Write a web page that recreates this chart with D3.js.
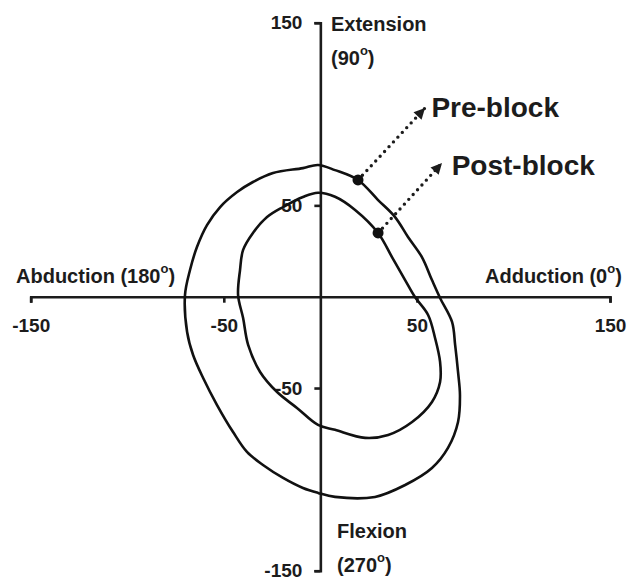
<!DOCTYPE html>
<meta charset="utf-8">
<style>
    body { margin: 0; background: #fff; }
    text { font-family: "Liberation Sans", Arial, sans-serif; font-weight: bold; fill: #1c1c1c; }
</style>
<script src="https://d3js.org/d3.v7.min.js"></script>
<div id="chart"></div>
<script>
// tick values on both axes
var tickVals = [-150, -50, 50, 150];

// outer loop (pre-block), traced clockwise from the top
var preX = [-1.2, 7.6, 19.5, 29.9, 38.7, 45.4, 52.6, 57.8, 62.0, 68.2, 69.8, 71.3, 72.3, 71.3, 66.1, 57.8, 43.9, 28.3, 7.6, -1.2,
            -9.0, -19.3, -29.7, -38.0, -45.2, -53.5, -60.7, -65.9, -69.0, -70.1, -67.5, -63.9, -58.7, -51.9, -43.1, -34.9, -24.5, -9.0];
var preY = [72.1, 69.3, 63.9, 52.9, 43.6, 32.7, 21.7, 9.1, -0.7, -13.8, -26.4, -41.2, -53.8, -68.6, -82.8, -93.8, -103.1, -109.6, -109.6, -107.4,
            -104.7, -99.2, -92.1, -85.0, -74.1, -59.3, -44.5, -31.9, -19.3, 0.9, 14.6, 27.2, 39.2, 49.1, 57.3, 62.8, 67.7, 70.4];

// inner loop (post-block)
var postX = [-1.2, 7.6, 18.0, 29.9, 37.1, 43.9, 49.0, 55.8, 59.4, 62.0, 62.0, 57.8, 47.5, 35.1, 23.2, 7.6, -1.2,
             -12.1, -22.4, -31.2, -37.4, -40.0, -42.6, -41.6, -40.0, -34.9, -27.6, -19.3, -9.0];
var postY = [56.9, 54.7, 47.5, 34.9, 21.7, 9.1, -0.2, -10.0, -22.6, -35.7, -46.7, -57.6, -68.6, -75.7, -77.3, -72.9, -70.2,
             -60.9, -52.2, -41.2, -26.4, -11.7, 0.9, 14.6, 25.6, 34.9, 43.6, 49.1, 54.6];

// marked points and where their arrows point
var markNames = ["Pre-block", "Post-block"];
var markPt = [[19.5, 63.9], [29.9, 34.9]];
var arrowTip = [[54.2, 103.3], [63.0, 73.2]];
var labelPt = [[57.5, 98.6], [68.0, 66.6]];

var width = 627, height = 577;

var svg = d3.select("#chart").append("svg")
    .attr("width", width)
    .attr("height", height);

var x = d3.scaleLinear().domain([-150, 150]).range([30.7, 610]);
var y = d3.scaleLinear().domain([-150, 150]).range([570.7, 22.7]);

svg.append("defs").append("marker")
    .attr("id", "head")
    .attr("viewBox", "0 0 10 10")
    .attr("refX", 10).attr("refY", 5)
    .attr("markerWidth", 13).attr("markerHeight", 11)
    .attr("markerUnits", "userSpaceOnUse")
    .attr("orient", "auto")
    .append("path")
    .attr("d", "M0,0 L10,5 L0,10 Z")
    .attr("fill", "#1c1c1c");

// plain hyphen for negatives, like the original
var fmt = function(d) { return String(d); };

// axes crossing at the origin
var xAxis = svg.append("g")
    .attr("transform", "translate(0," + y(0) + ")")
    .call(d3.axisBottom(x).tickValues(tickVals).tickFormat(fmt).tickSize(6).tickPadding(16));
var yAxis = svg.append("g")
    .attr("transform", "translate(" + x(0) + ",0)")
    .call(d3.axisLeft(y).tickValues(tickVals).tickFormat(fmt).tickSize(6).tickPadding(12));

[xAxis, yAxis].forEach(function(g) {
    g.selectAll("path, line").attr("stroke", "#1c1c1c").attr("stroke-width", 2.6);
    g.selectAll("text")
        .attr("fill", "#1c1c1c")
        .style("font-size", "19px")
        .style("font-weight", "bold")
        .style("font-family", "'Liberation Sans', Arial, sans-serif");
});

// the two loops
var line = d3.line()
    .x(function(d) { return x(d[0]); })
    .y(function(d) { return y(d[1]); })
    .curve(d3.curveCatmullRomClosed.alpha(0.5));

[[preX, preY], [postX, postY]].forEach(function(s) {
    var pts = s[0].map(function(v, i) { return [v, s[1][i]]; });
    svg.append("path")
        .datum(pts)
        .attr("d", line)
        .attr("fill", "none")
        .attr("stroke", "#111")
        .attr("stroke-width", 2.6)
        .attr("stroke-linejoin", "round");
});

// dotted arrows, dots and labels
markNames.forEach(function(name, i) {
    svg.append("line")
        .attr("x1", x(markPt[i][0])).attr("y1", y(markPt[i][1]))
        .attr("x2", x(arrowTip[i][0])).attr("y2", y(arrowTip[i][1]))
        .attr("stroke", "#1c1c1c")
        .attr("stroke-width", 3.4)
        .attr("stroke-linecap", "round")
        .attr("stroke-dasharray", "0,6.5")
        .attr("marker-end", "url(#head)");
    svg.append("circle")
        .attr("cx", x(markPt[i][0])).attr("cy", y(markPt[i][1]))
        .attr("r", 5.5)
        .attr("fill", "#111");
    svg.append("text")
        .attr("x", x(labelPt[i][0])).attr("y", y(labelPt[i][1]))
        .style("font-size", "28px")
        .text(name);
});

// direction labels
function dirLabel(px, py, first, num) {
    var t = svg.append("text").attr("x", px).attr("y", py).style("font-size", "20px");
    if (first) t.text(first + " ");
    t.append("tspan").text("(" + num);
    t.append("tspan").attr("dy", -10).style("font-size", "13px").text("o");
    t.append("tspan").attr("dy", 10).text(")");
}

svg.append("text").attr("x", 331).attr("y", 31).style("font-size", "20px").text("Extension");
dirLabel(331, 65, null, "90");
svg.append("text").attr("x", 337).attr("y", 538).style("font-size", "20px").text("Flexion");
dirLabel(337, 572, null, "270");
dirLabel(16, 283, "Abduction", "180");
dirLabel(485, 283, "Adduction", "0");
</script>
